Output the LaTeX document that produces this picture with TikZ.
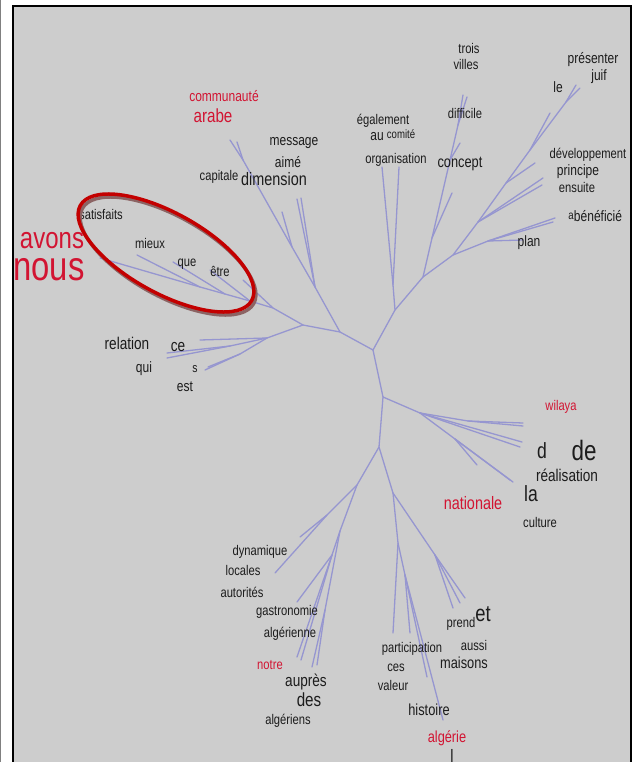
\documentclass[tikz,border=0pt]{standalone}
\usepackage{fontspec}
\setmainfont[FakeStretch=0.8]{Liberation Sans}

\definecolor{panelgray}{RGB}{205,205,205}
\definecolor{branchblue}{RGB}{150,150,208}
\definecolor{wordblack}{RGB}{28,28,28}
\definecolor{wordred}{RGB}{210,20,50}
\definecolor{ringred}{RGB}{195,0,0}
\definecolor{ringshadow}{RGB}{140,100,100}

\begin{document}
\begin{tikzpicture}[x=1pt, y=-1pt,
        branch/.style={branchblue, line width=1.3pt, line cap=round},
        word/.style={inner sep=0pt, text=wordblack, font=\fontsize{#1}{#1}\selectfont},
        redword/.style={word=#1, text=wordred}]
        \useasboundingbox (0,0) rectangle (636,762);
        \fill[panelgray] (13,6) rectangle (631,762);
        \draw[gray, line width=1.2pt] (0.6,0) -- (0.6,762);
        \draw[black, line width=2pt] (13,762) -- (13,6) -- (631,6) -- (631,762);

        % junctions
        \coordinate (root) at (373,350);
        \coordinate (J1) at (395,310);
        \coordinate (O1) at (393,285);
        \coordinate (J2) at (423,277);
        \coordinate (S1) at (432,238);
        \coordinate (S2) at (450,160);
        \coordinate (S3) at (458,125);
        \coordinate (J3) at (453,255);
        \coordinate (P1) at (488,241);
        \coordinate (K1) at (478,222);
        \coordinate (K2) at (506,183);
        \coordinate (K3) at (530,150);
        \coordinate (K4) at (566,102);
        \coordinate (L1) at (340,332);
        \coordinate (A1) at (315,287);
        \coordinate (A2) at (292,247);
        \coordinate (A3) at (243,160);
        \coordinate (L2) at (303,325);
        \coordinate (E1) at (273,308);
        \coordinate (E2) at (200,287);
        \coordinate (E3) at (225,294);
        \coordinate (E4) at (250,301);
        \coordinate (R1) at (267,338);
        \coordinate (R2) at (230,346);
        \coordinate (R3) at (240,354);
        \coordinate (D1) at (383,397);
        \coordinate (W1) at (420,413);
        \coordinate (W2) at (468,421);
        \coordinate (W3) at (455,439);
        \coordinate (D2) at (379,447);
        \coordinate (B1) at (357,485);
        \coordinate (B1a) at (327,515);
        \coordinate (B2) at (340,531);
        \coordinate (B3) at (332,555);
        \coordinate (B4) at (325,610);
        \coordinate (C1) at (393,493);
        \coordinate (C1a) at (435,555);
        \coordinate (C2) at (398,543);
        \coordinate (C3) at (405,575);

        % tips
        \coordinate (tO1) at (382,167);
        \coordinate (tO2) at (399,167);
        \coordinate (tS1) at (452,193);
        \coordinate (tS2) at (460,143);
        \coordinate (tS3) at (463,95);
        \coordinate (tS4) at (467,97);
        \coordinate (tP1) at (523,240);
        \coordinate (tP2) at (555,218);
        \coordinate (tP3) at (553,222);
        \coordinate (tK1) at (543,178);
        \coordinate (tK2) at (542,185);
        \coordinate (tK3) at (535,163);
        \coordinate (tK4) at (550,113);
        \coordinate (tK5) at (576,85);
        \coordinate (tK6) at (580,88);
        \coordinate (tA1) at (297,199);
        \coordinate (tA2) at (301,198);
        \coordinate (tA3) at (282,212);
        \coordinate (tA4) at (230,140);
        \coordinate (tA5) at (237,142);
        \coordinate (tE1) at (100,258);
        \coordinate (tE2) at (137,255);
        \coordinate (tE3) at (173,262);
        \coordinate (tE4) at (210,270);
        \coordinate (tE5) at (243,280);
        \coordinate (tR1) at (200,340);
        \coordinate (tR2) at (167,353);
        \coordinate (tR3) at (167,358);
        \coordinate (tR4) at (205,370);
        \coordinate (tR5) at (208,367);
        \coordinate (tW1) at (523,423);
        \coordinate (tW2) at (523,426);
        \coordinate (tW3) at (522,442);
        \coordinate (tW4) at (520,447);
        \coordinate (tW5) at (477,465);
        \coordinate (tW6) at (510,480);
        \coordinate (tW7) at (513,482);
        \coordinate (tB1) at (300,537);
        \coordinate (tB2) at (275,573);
        \coordinate (tB3) at (297,602);
        \coordinate (tB4) at (297,657);
        \coordinate (tB5) at (301,660);
        \coordinate (tB6) at (312,667);
        \coordinate (tB7) at (317,665);
        \coordinate (tC1) at (453,608);
        \coordinate (tC2) at (460,603);
        \coordinate (tC3) at (465,598);
        \coordinate (tC4) at (393,633);
        \coordinate (tC5) at (410,633);
        \coordinate (tC6) at (427,677);
        \coordinate (tC7) at (443,720);

        % upper right
        \draw[branch] (root) -- (J1) -- (O1) -- (tO1);
        \draw[branch] (O1) -- (tO2);
        \draw[branch] (J1) -- (J2) -- (S1) -- (S2) -- (S3) -- (tS3);
        \draw[branch] (S1) -- (tS1);
        \draw[branch] (S2) -- (tS2);
        \draw[branch] (S3) -- (tS4);
        \draw[branch] (J2) -- (J3) -- (P1) -- (tP1);
        \draw[branch] (P1) -- (tP2);
        \draw[branch] (P1) -- (tP3);
        \draw[branch] (J3) -- (K1) -- (K2) -- (K3) -- (K4) -- (tK5);
        \draw[branch] (K1) -- (tK1);
        \draw[branch] (K1) -- (tK2);
        \draw[branch] (K2) -- (tK3);
        \draw[branch] (K3) -- (tK4);
        \draw[branch] (K4) -- (tK6);

        % upper left
        \draw[branch] (root) -- (L1) -- (A1) -- (A2) -- (A3) -- (tA4);
        \draw[branch] (A1) -- (tA1);
        \draw[branch] (A1) -- (tA2);
        \draw[branch] (A2) -- (tA3);
        \draw[branch] (A3) -- (tA5);
        \draw[branch] (L1) -- (L2) -- (E1) -- (E4) -- (E3) -- (E2) -- (tE1);
        \draw[branch] (E2) -- (tE2);
        \draw[branch] (E3) -- (tE3);
        \draw[branch] (E4) -- (tE4);
        \draw[branch] (E1) -- (tE5);
        \draw[branch] (L2) -- (R1) -- (R2) -- (tR2);
        \draw[branch] (R2) -- (tR3);
        \draw[branch] (R1) -- (tR1);
        \draw[branch] (R1) -- (R3) -- (tR4);
        \draw[branch] (R3) -- (tR5);

        % right
        \draw[branch] (root) -- (D1) -- (W1) -- (W2) -- (tW1);
        \draw[branch] (W2) -- (tW2);
        \draw[branch] (W1) -- (tW3);
        \draw[branch] (W1) -- (tW4);
        \draw[branch] (W1) -- (W3) -- (tW6);
        \draw[branch] (W3) -- (tW7);
        \draw[branch] (W3) -- (tW5);

        % bottom
        \draw[branch] (D1) -- (D2) -- (B1) -- (B1a) -- (tB2);
        \draw[branch] (B1a) -- (tB1);
        \draw[branch] (B1) -- (B2) -- (B3) -- (tB4);
        \draw[branch] (B3) -- (tB5);
        \draw[branch] (B3) -- (tB3);
        \draw[branch] (B2) -- (B4) -- (tB6);
        \draw[branch] (B4) -- (tB7);
        \draw[branch] (D2) -- (C1) -- (C1a) -- (tC3);
        \draw[branch] (C1a) -- (tC1);
        \draw[branch] (C1a) -- (tC2);
        \draw[branch] (C1) -- (C2) -- (tC4);
        \draw[branch] (C2) -- (C3) -- (tC5);
        \draw[branch] (C3) -- (tC6);
        \draw[branch] (C3) -- (tC7);

        % words
        \node[redword=15] (communaute) at (224,96) {communauté};
        \node[redword=19] (arabe) at (213,116) {arabe};
        \node[word=15] (message) at (294,143) {message};
        \node[word=15] (aime) at (288,162) {aimé};
        \node[word=14] (capitale) at (219,177) {capitale};
        \node[word=18] (dimension) at (274,179) {dimension};
        \node[word=14] (satisfaits) at (101,214) {satisfaits};
        \node[word=14] (mieux) at (150,243) {mieux};
        \node[word=14] (que) at (187,264) {que};
        \node[word=14] (etre) at (220,271) {être};
        \node[redword=30] (avons) at (52,241) {avons};
        \node[redword=41] (nous) at (49,270) {nous};
        \node[word=17] (relation) at (127,343) {relation};
        \node[word=17] (ce) at (178,347) {ce};
        \node[word=15] (qui) at (144,369) {qui};
        \node[word=13] (s) at (195,369) {s};
        \node[word=15] (est) at (185,387) {est};

        \node[word=14] (trois) at (469,48) {trois};
        \node[word=14] (villes) at (466,64) {villes};
        \node[word=14] (difficile) at (465,113) {difficile};
        \node[word=14] (egalement) at (383,121) {également};
        \node[word=15] (au) at (377,137) {au};
        \node[word=12] (comite) at (401,134) {comité};
        \node[word=14] (organisation) at (396,160) {organisation};
        \node[word=16] (concept) at (460,164) {concept};

        \node[word=15] (presenter) at (593,60) {présenter};
        \node[word=15] (juif) at (599,77) {juif};
        \node[word=15] (le) at (558,87) {le};
        \node[word=14] (developpement) at (588,155) {développement};
        \node[word=15] (principe) at (578,172) {principe};
        \node[word=14] (ensuite) at (577,187) {ensuite};
        \node[word=12] (a) at (571,216) {a};
        \node[word=15] (beneficie) at (598,216) {bénéficié};
        \node[word=15] (plan) at (529,243) {plan};

        \node[redword=14] (wilaya) at (561,407) {wilaya};
        \node[word=22] (d) at (542,451) {d};
        \node[word=28] (de) at (584,450) {de};
        \node[word=17] (realisation) at (567,475) {réalisation};
        \node[word=22] (la) at (531,494) {la};
        \node[redword=18] (nationale) at (473,503) {nationale};
        \node[word=14] (culture) at (540,522) {culture};

        \node[word=14] (dynamique) at (260,552) {dynamique};
        \node[word=14] (locales) at (243,570) {locales};
        \node[word=14] (autorites) at (242,592) {autorités};
        \node[word=14] (gastronomie) at (287,612) {gastronomie};
        \node[word=14] (algerienne) at (290,634) {algérienne};
        \node[redword=14] (notre) at (270,665) {notre};
        \node[word=17] (aupres) at (306,682) {auprès};
        \node[word=19] (des) at (309,700) {des};
        \node[word=14] (algeriens) at (288,721) {algériens};
        \node[word=14] (participation) at (412,649) {participation};
        \node[word=14] (ces) at (396,668) {ces};
        \node[word=14] (valeur) at (393,685) {valeur};
        \node[word=16] (histoire) at (429,710) {histoire};
        \node[redword=16] (algerie) at (447,738) {algérie};
        \node[word=18] (l) at (452,756) {l};
        \node[word=14] (prend) at (461,624) {prend};
        \node[word=23] (et) at (483,614) {et};
        \node[word=14] (aussi) at (474,645) {aussi};
        \node[word=16] (maisons) at (464,663) {maisons};

        % ring round the cluster
        \draw[ringshadow, line width=3.5pt] (168,256) ellipse [x radius=98, y radius=40, rotate=-29];
        \draw[ringred, line width=3.5pt] (166,253) ellipse [x radius=98, y radius=40, rotate=-29];
    \end{tikzpicture}
\end{document}
